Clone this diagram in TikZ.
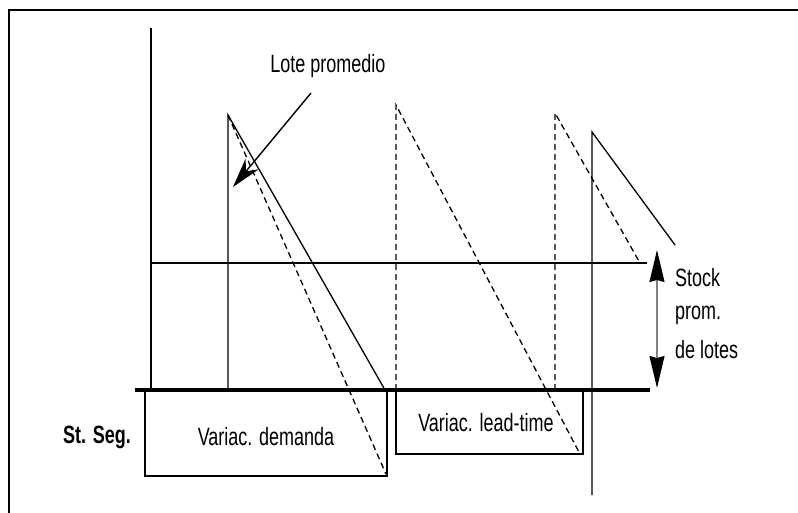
\documentclass[tikz,border=0pt]{standalone}
\usepackage{fontspec}
\setmainfont{Liberation Sans}
\newfontfamily\narrowsf[FakeStretch=0.72]{Liberation Sans}
\usetikzlibrary{arrows.meta}
\usetikzlibrary{calc}

\begin{document}
\begin{tikzpicture}[x=1pt,y=-1pt,
    lbl/.style={font=\narrowsf\fontsize{25}{30}\selectfont, inner sep=0pt},
    thin line/.style={line width=1.3pt},
    dash line/.style={line width=1.3pt, dash pattern=on 6pt off 4pt}]
    \useasboundingbox (0,0) rectangle (798,513);
		
		% marco
		\draw [line width=2pt] (9,513)--(9,10)--(798,10);
		
		\coordinate (O) at (151,390);
		\coordinate (Y) at (151,28);
		\coordinate (L) at (135,390);
		\coordinate (R) at (650,390);
		\coordinate (M1) at (151,263);
		\coordinate (M2) at (647,263);
		
		% picos
		\coordinate (A) at (228,115);
		\coordinate (B) at (396,105);
		\coordinate (C) at (555,113);
		\coordinate (D) at (592,132);
		
		\draw [line width=1.8pt] (Y)--(O);
		\draw [line width=3.2pt] (L)--(R);
		\draw [thin line] (M1)--(M2);
		
		% lote real
		\draw [thin line] (A |- O)--(A)--(385,390);
		\draw [dash line] (A)--(386,474);
		
		\draw [dash line] (B |- O)--(B)--(580,454);
		\draw [dash line] (C |- O)--(C)--(640,263);
		
		\draw [thin line] (592,495)--(D)--(675,245);
		
		% cajas del stock de seguridad
		\draw [thin line] (145,391) rectangle (387,476);
		\draw [thin line] (396,391) rectangle (583,454);
		\node [lbl] (dem) at (266,437) {Variac. demanda};
		\node [lbl] (lead) at (486,423) {Variac. lead-time};
		\node [lbl, font=\narrowsf\bfseries\fontsize{25}{30}\selectfont] (seg) at (97,437) {St. Seg.};
		
		% lote promedio
		\node [lbl] (lote) at (328,66) {Lote promedio};
		\coordinate (T) at (233,187);
		\draw [line width=1.4pt, -{Stealth[length=30pt,width=17pt]}] (311,93)--(T);
		
		% stock promedio
		\coordinate (S1) at (657,250);
		\coordinate (S2) at (657,388);
		\draw [line width=1.4pt, black!50, {Stealth[length=32pt,width=15pt,black,inset=2pt]}-{Stealth[length=32pt,width=15pt,black,inset=2pt]}] (S1)--(S2);
		\node [lbl, anchor=west] (st1) at (675,278) {Stock};
		\node [lbl, anchor=west] (st2) at (675,315) {prom.};
		\node [lbl, anchor=west] (st3) at (675,350) {de lotes};
		
\end{tikzpicture}
\end{document}
